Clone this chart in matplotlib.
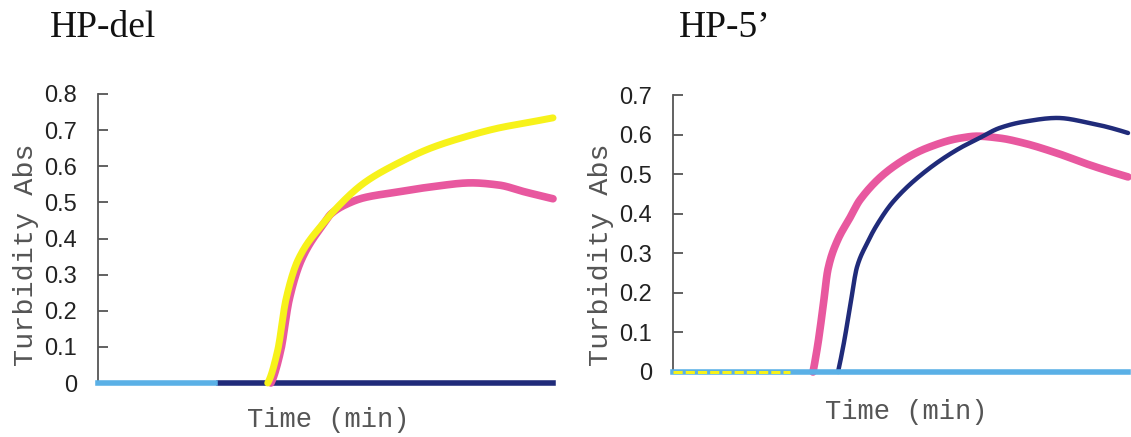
import matplotlib
matplotlib.use("Agg")
import matplotlib.pyplot as plt
import numpy as np

# ---------------- data (time in min, turbidity abs) ----------------
# HP-del panel
del_yellow_t = [22.38, 23.7, 24.77, 26.36, 29.8, 30.73, 35.1, 39.6, 43.97, 48.34, 52.85, 57.22, 60.0]
del_yellow_v = [0.0, 0.091, 0.23, 0.34, 0.445, 0.468, 0.554, 0.609, 0.651, 0.681, 0.706, 0.723, 0.734]
del_pink_t = [22.8, 24.1, 25.2, 26.8, 29.9, 30.73, 32.98, 35.1, 39.6, 43.97, 49.27, 52.85, 56.29, 60.0]
del_pink_v = [0.0, 0.091, 0.23, 0.34, 0.445, 0.468, 0.497, 0.513, 0.529, 0.543, 0.554, 0.548, 0.529, 0.51]
del_navy_t = [15.9, 60.0]
del_navy_v = [0, 0]
del_lblue_t = [0, 15.4]
del_lblue_v = [0, 0]

# HP-5' panel
p5_pink_t = [18.46, 19.1, 19.78, 20.44, 21.63, 23.34, 24.66, 29.01, 33.49, 37.85, 40.09, 43.12, 46.15, 50.64, 54.99, 60.0]
p5_pink_v = [0.0, 0.07, 0.164, 0.26, 0.33, 0.39, 0.435, 0.518, 0.566, 0.591, 0.596, 0.591, 0.579, 0.553, 0.523, 0.493]
p5_navy_t = [21.76, 22.5, 23.34, 24.26, 25.58, 26.9, 29.01, 33.49, 37.85, 40.09, 43.12, 46.15, 50.64, 54.99, 60.0]
p5_navy_v = [0.0, 0.07, 0.164, 0.265, 0.325, 0.372, 0.43, 0.51, 0.566, 0.588, 0.617, 0.632, 0.642, 0.629, 0.604]
p5_lblue_t = [0, 60.0]
p5_lblue_v = [0, 0]
p5_yellow_t = [0, 15.4]
p5_yellow_v = [0, 0]

titles = ["HP-del", "HP-5\u2019"]
xlabel = "Time (min)"
ylabel = "Turbidity Abs"
del_yticks = [0, 0.1, 0.2, 0.3, 0.4, 0.5, 0.6, 0.7, 0.8]
p5_yticks = [0, 0.1, 0.2, 0.3, 0.4, 0.5, 0.6, 0.7]

YELLOW = "#f7f21a"
PINK = "#e8589f"
NAVY = "#202b7a"
LBLUE = "#5ab0e6"

W, H = 1131, 437
fig = plt.figure(figsize=(W / 100, H / 100), dpi=100)


def smooth(t, v, n=400):
    t = np.asarray(t, float)
    v = np.asarray(v, float)
    try:
        from scipy.interpolate import PchipInterpolator
        tt = np.linspace(t[0], t[-1], n)
        return tt, PchipInterpolator(t, v)(tt)
    except Exception:
        return t, v


def style_axes(ax, ymax, yticks):
    ax.set_xlim(0, 60)
    ax.set_ylim(0, ymax)
    for s in ["top", "right", "bottom"]:
        ax.spines[s].set_visible(False)
    ax.spines["left"].set_color("#555555")
    ax.spines["left"].set_linewidth(1.3)
    ax.set_xticks([])
    ax.set_yticks(yticks)
    ax.set_yticklabels(["0" if y == 0 else f"{y:.1f}" for y in yticks])
    ax.tick_params(axis="y", direction="in", length=7, width=1.3, color="#555555",
                   labelsize=17, pad=15, labelcolor="#222222")
    for lab in ax.get_yticklabels():
        lab.set_family("Liberation Sans")


# left panel: x 98..553, y 94..383
ax1 = fig.add_axes([98 / W, (H - 383) / H, 455 / W, (383 - 94) / H])
style_axes(ax1, 0.8, del_yticks)
ax1.plot(del_navy_t, del_navy_v, color=NAVY, lw=4, clip_on=False, zorder=3)
ax1.plot(del_lblue_t, del_lblue_v, color=LBLUE, lw=4, clip_on=False, zorder=3)
t, v = smooth(del_pink_t, del_pink_v)
ax1.plot(t, v, color=PINK, lw=5.5, clip_on=False, zorder=4, solid_capstyle="round")
t, v = smooth(del_yellow_t, del_yellow_v)
ax1.plot(t, v, color=YELLOW, lw=5, clip_on=False, zorder=5, solid_capstyle="round")

# right panel: x 673..1128, y 95..372
ax2 = fig.add_axes([673 / W, (H - 372) / H, 455 / W, (372 - 95) / H])
style_axes(ax2, 0.7, p5_yticks)
t, v = smooth(p5_pink_t, p5_pink_v)
ax2.plot(t, v, color=PINK, lw=5.5, clip_on=False, zorder=3, solid_capstyle="round")
t, v = smooth(p5_navy_t, p5_navy_v)
ax2.plot(t, v, color=NAVY, lw=3.2, clip_on=False, zorder=4, solid_capstyle="round")
ax2.plot(p5_lblue_t, p5_lblue_v, color=LBLUE, lw=4, clip_on=False, zorder=5)
ax2.plot(p5_yellow_t, p5_yellow_v, color=YELLOW, lw=2.2, clip_on=False, zorder=6,
         linestyle=(0, (3, 1)))

# titles
fig.text(50 / W, 1 - 28 / H, titles[0], family="Liberation Serif", fontsize=27,
         ha="left", va="center", color="#111111")
fig.text(679 / W, 1 - 28 / H, titles[1], family="Liberation Serif", fontsize=27,
         ha="left", va="center", color="#111111")

# axis labels
for cx, cy in [(328, 420), (906, 412)]:
    fig.text(cx / W, 1 - cy / H, xlabel, family="Liberation Mono", fontsize=19.5,
             ha="center", va="center", color="#555555")
for cx, cy in [(26, 255), (601, 255)]:
    fig.text(cx / W, 1 - cy / H, ylabel, family="Liberation Mono", fontsize=20.5,
             ha="center", va="center", color="#555555", rotation=90)

fig.savefig("out.png", dpi=100)
